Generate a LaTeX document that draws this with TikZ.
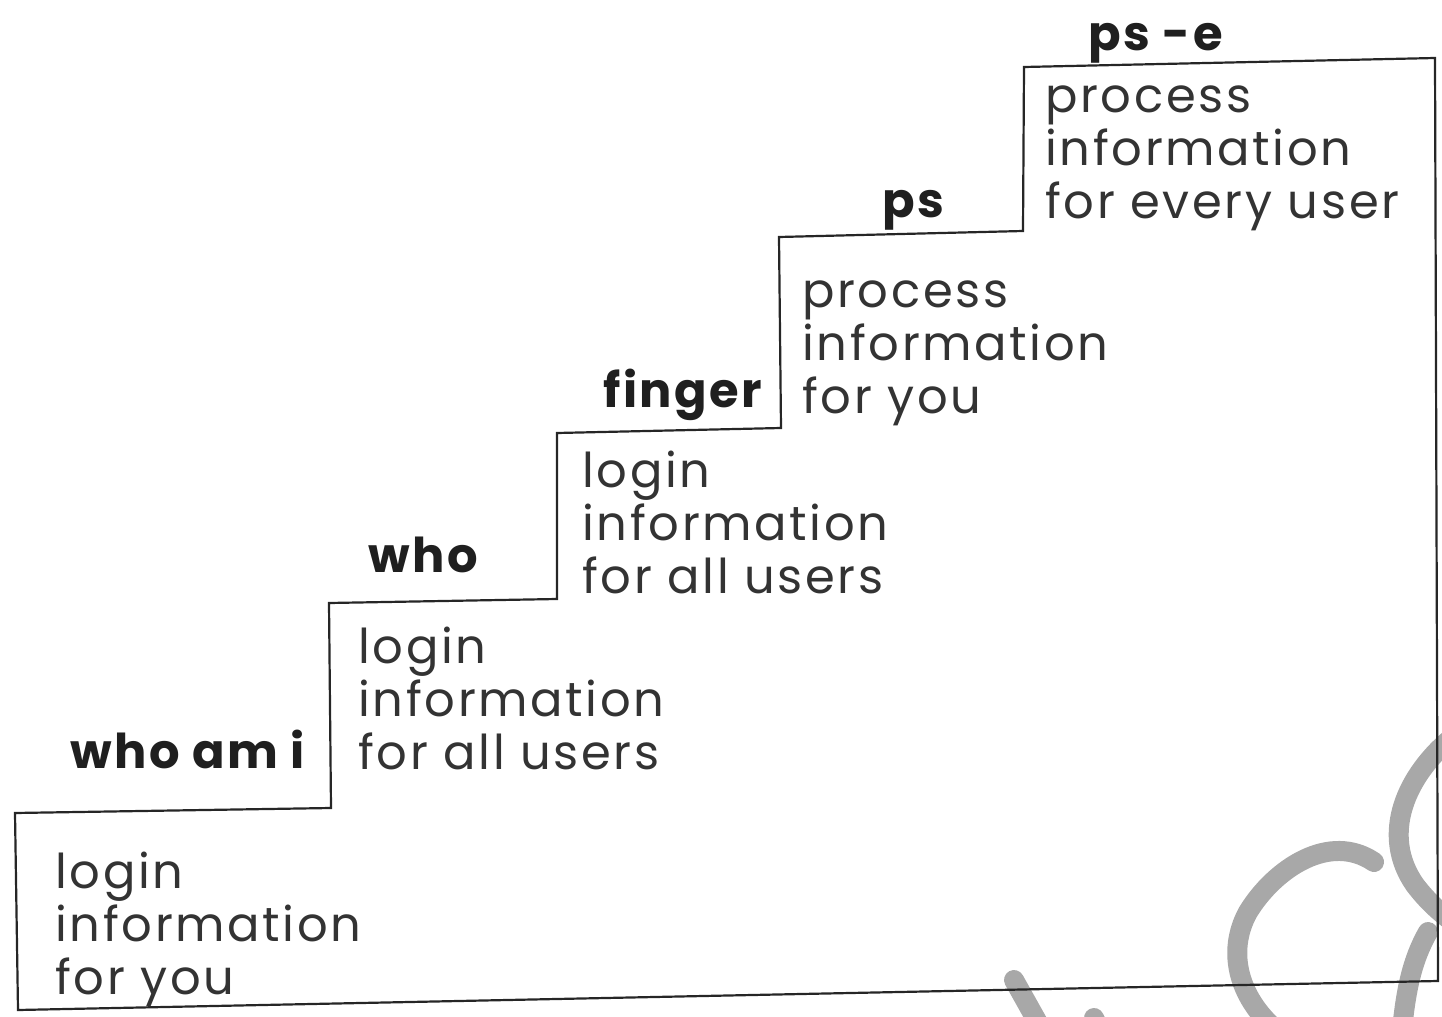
\documentclass[tikz,border=0pt]{standalone}
\usepackage{fontspec}
\setmainfont{Poppins}
\newfontfamily\stepfont{Poppins}[LetterSpace=5.5]
\newfontfamily\cmdfont{Poppins}[LetterSpace=5]
\begin{document}
\begin{tikzpicture}[x=0.5pt,y=-0.5pt,
  outline/.style={line width=1.1pt, draw=black!85, line join=miter},
  cmdlabel/.style={font=\cmdfont\bfseries\fontsize{24}{26}\selectfont, text=black!88, anchor=base west, inner sep=0},
  stepbody/.style={font=\stepfont\fontsize{24}{26.5}\selectfont, text=black!80, align=left, anchor=north west, inner sep=0},
  stamp/.style={draw=black!34, line width=10pt, line cap=round}]
\useasboundingbox (0,0) rectangle (1442,1017);

% faint stamp strokes at the lower right
\draw[stamp] (1374,862) .. controls (1330,832) and (1275,868) .. (1248,912)
             .. controls (1226,952) and (1238,1000) .. (1282,1035);
\draw[stamp] (1455,735) .. controls (1405,775) and (1380,835) .. (1415,885)
             .. controls (1428,902) and (1440,912) .. (1450,920);
\draw[stamp] (1428,932) .. controls (1412,960) and (1406,990) .. (1402,1030);
\draw[stamp] (1014,980) -- (1042,1030);
\draw[stamp] (1094,1018) -- (1100,1030);

% staircase outline
\coordinate (b0) at (18,1010);
\coordinate (s1) at (15,813);
\coordinate (r1) at (331,808);
\coordinate (s2) at (329,603);
\coordinate (r2) at (557,599);
\coordinate (s3) at (557,433);
\coordinate (r3) at (781,428);
\coordinate (s4) at (779,237);
\coordinate (r4) at (1023,231);
\coordinate (s5) at (1024,67);
\coordinate (r5) at (1435,58);
\coordinate (b5) at (1438,981);
\draw[outline] (b0) -- (s1) -- (r1) -- (s2) -- (r2) -- (s3) -- (r3) -- (s4) -- (r4) -- (s5) -- (r5) -- (b5) -- cycle;

% command names
\node[cmdlabel] (whoami) at (70,768) {who am i};
\node[cmdlabel] (who)    at (368,572) {who};
\node[cmdlabel] (finger) at (603,407) {finger};
\node[cmdlabel] (ps)     at (882,217) {ps};
\node[cmdlabel] (pse)    at (1088,50) {ps -e};

% what each command reports
\node[stepbody] (t1) at (55,851)  {\strut login\\information\\for you};
\node[stepbody] (t2) at (358,626) {\strut login\\information\\for all users};
\node[stepbody] (t3) at (582,450) {\strut login\\information\\for all users};
\node[stepbody] (t4) at (802,270) {\strut process\\information\\for you};
\node[stepbody] (t5) at (1045,75) {\strut process\\information\\for every user};
\end{tikzpicture}
\end{document}
